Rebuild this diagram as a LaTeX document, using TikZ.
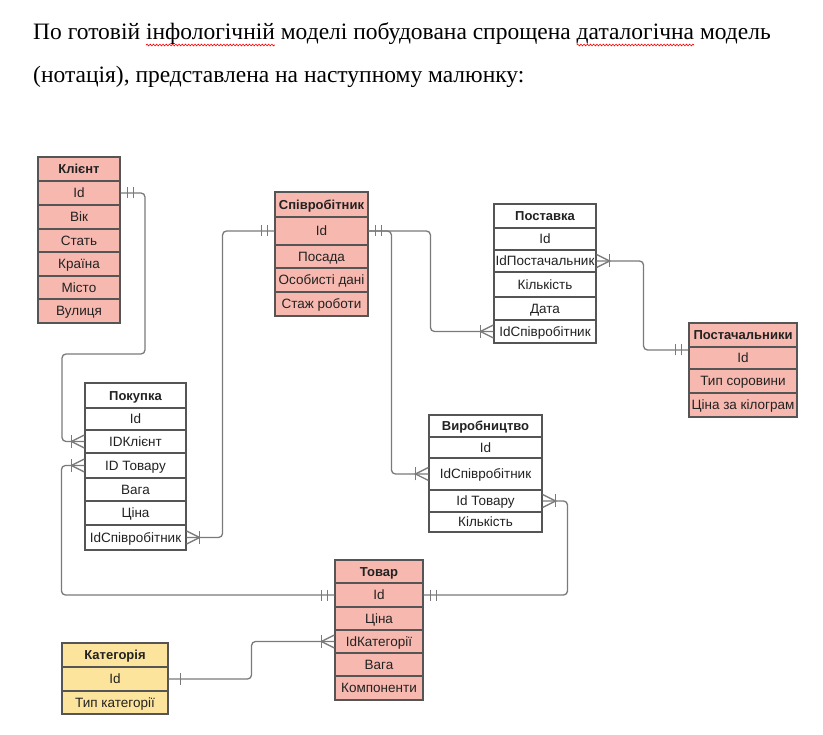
\documentclass[tikz,border=0pt]{standalone}
\usepackage{fontspec}
\setmainfont{Liberation Serif}
\newfontfamily\tabfont{Liberation Sans}
\usetikzlibrary{decorations.pathmorphing}
\definecolor{pinkc}{HTML}{F7B9AF}
\definecolor{yelc}{HTML}{FCE49C}
\definecolor{bordc}{HTML}{555555}
\definecolor{linec}{HTML}{7A7A7A}
\definecolor{txtc}{HTML}{222222}
\newlength\sqw
\newcommand\squig[1]{\settowidth\sqw{#1}\rlap{\tikz[overlay]\draw[red,line width=0.6pt,decorate,decoration={snake,amplitude=0.9pt,segment length=3.2pt}] (0pt,-5pt) -- (\sqw,-5pt);}#1}
\tikzset{
  cell/.style={draw=bordc, line width=1.1pt, inner sep=0pt, text=txtc,
    font=\tabfont\fontsize{13.5}{16}\selectfont, text height=12.7pt, text depth=3pt},
  pk/.style={cell, fill=pinkc},
  wt/.style={cell, fill=white},
  yl/.style={cell, fill=yelc},
  hd/.style={font=\tabfont\bfseries\fontsize{13}{16}\selectfont},
  conn/.style={draw=linec, line width=1.3pt, rounded corners=4pt},
  mk/.style={draw=linec, line width=1.3pt},
  manyone/.pic={\draw[mk] (0,-6.5) -- (13,0) -- (0,6.5); \draw[mk] (13,-6.5) -- (13,6.5);},
  oneone/.pic={\draw[mk] (7,-5.5) -- (7,5.5); \draw[mk] (13,-5.5) -- (13,5.5);},
  onlyone/.pic={\draw[mk] (12,-6) -- (12,6);}
}
\begin{document}
\begin{tikzpicture}[x=1pt,y=-1pt]
\fill[white] (0,0) rectangle (823,735);
\useasboundingbox (0,0) rectangle (823,735);

\node[anchor=base west, inner sep=0, font=\fontsize{23.5}{28}\selectfont] (l1) at (33,40)
  {По готовій \squig{інфологічній} моделі побудована спрощена \squig{даталогічна} модель};
\node[anchor=base west, inner sep=0, font=\fontsize{23.5}{28}\selectfont] (l2) at (33,83)
  {(нотація), представлена на наступному малюнку:};

% Клієнт
\begin{scope}[every node/.append style={minimum width=82pt}]
\node[pk,hd,minimum height=24pt] (k0) at (79,169) {Клієнт};
\node[pk,minimum height=24pt] (k1) at (79,193) {Id};
\node[pk,minimum height=24pt] (k2) at (79,217) {Вік};
\node[pk,minimum height=23pt] (k3) at (79,240.5) {Стать};
\node[pk,minimum height=24pt] (k4) at (79,264) {Країна};
\node[pk,minimum height=23pt] (k5) at (79,287.5) {Місто};
\node[pk,minimum height=24pt] (k6) at (79,311) {Вулиця};
\end{scope}

% Співробітник
\begin{scope}[every node/.append style={minimum width=93pt}]
\node[pk,hd,minimum height=25pt] (s0) at (321.5,204.5) {Співробітник};
\node[pk,minimum height=28pt] (s1) at (321.5,231) {Id};
\node[pk,minimum height=23pt] (s2) at (321.5,256.5) {Посада};
\node[pk,minimum height=24pt] (s3) at (321.5,280) {Особисті дані};
\node[pk,minimum height=24pt] (s4) at (321.5,304) {Стаж роботи};
\end{scope}

% Поставка
\begin{scope}[every node/.append style={minimum width=102pt}]
\node[wt,hd,minimum height=24pt] (p0) at (545,216) {Поставка};
\node[wt,minimum height=22pt] (p1) at (545,239) {Id};
\node[wt,minimum height=22pt] (p2) at (545,261) {IdПостачальник};
\node[wt,minimum height=25pt] (p3) at (545,284.5) {Кількість};
\node[wt,minimum height=23pt] (p4) at (545,308.5) {Дата};
\node[wt,minimum height=23pt] (p5) at (545,331.5) {IdСпівробітник};
\end{scope}

% Постачальники
\begin{scope}[every node/.append style={minimum width=108pt}]
\node[pk,hd,minimum height=24pt] (c0) at (743,335) {Постачальники};
\node[pk,minimum height=22pt] (c1) at (743,358) {Id};
\node[pk,minimum height=24pt] (c2) at (743,381) {Тип соровини};
\node[pk,minimum height=24pt] (c3) at (743,405) {Ціна за кілограм};
\end{scope}

% Покупка
\begin{scope}[every node/.append style={minimum width=101pt}]
\node[wt,hd,minimum height=25pt] (b0) at (135.5,395.5) {Покупка};
\node[wt,minimum height=22pt] (b1) at (135.5,419) {Id};
\node[wt,minimum height=23pt] (b2) at (135.5,441.5) {IDКлієнт};
\node[wt,minimum height=25pt] (b3) at (135.5,465.5) {ID Товару};
\node[wt,minimum height=23pt] (b4) at (135.5,489.5) {Вага};
\node[wt,minimum height=24pt] (b5) at (135.5,513) {Ціна};
\node[wt,minimum height=25pt] (b6) at (135.5,537.5) {IdСпівробітник};
\end{scope}

% Виробництво
\begin{scope}[every node/.append style={minimum width=113pt}]
\node[wt,hd,minimum height=22pt] (v0) at (485.5,426) {Виробництво};
\node[wt,minimum height=21pt] (v1) at (485.5,447.5) {Id};
\node[wt,minimum height=32pt] (v2) at (485.5,474) {IdСпівробітник};
\node[wt,minimum height=22pt] (v3) at (485.5,501) {Id Товару};
\node[wt,minimum height=20pt] (v4) at (485.5,522) {Кількість};
\end{scope}

% Товар
\begin{scope}[every node/.append style={minimum width=88pt}]
\node[pk,hd,minimum height=23pt] (t0) at (379,571.5) {Товар};
\node[pk,minimum height=24pt] (t1) at (379,595) {Id};
\node[pk,minimum height=23pt] (t2) at (379,618.5) {Ціна};
\node[pk,minimum height=23pt] (t3) at (379,641.5) {IdКатегорії};
\node[pk,minimum height=23pt] (t4) at (379,664.5) {Вага};
\node[pk,minimum height=24pt] (t5) at (379,688) {Компоненти};
\end{scope}

% Категорія
\begin{scope}[every node/.append style={minimum width=106pt}]
\node[yl,hd,minimum height=24pt] (g0) at (115,655) {Категорія};
\node[yl,minimum height=24pt] (g1) at (115,679) {Id};
\node[yl,minimum height=23pt] (g2) at (115,702.5) {Тип категорії};
\end{scope}

% connectors
\draw[conn] (k1.east) -| (145,354) -- (62,354) |- (b2.west);
\draw[conn] (b3.west) -- ++(-23,0) |- (t1.west);
\draw[conn] (b6.east) -- ++(36,0) |- (s1.west);
\draw[conn] (p5.west) -- ++(-63,0) |- (s1.east);
\draw[conn] (v2.west) -- ++(-37,0) |- (s1.east);
\draw[conn] (p2.east) -- ++(47,0) |- ([yshift=8pt]c1.west);
\draw[conn] (v3.east) -- ++(25,0) |- (t1.east);
\draw[conn] (g1.east) -- ++(83,0) |- (t3.west);

% markers
\pic at (k1.east) {oneone};
\pic[rotate=180] at (b2.west) {manyone};
\pic[rotate=180] at (b3.west) {manyone};
\pic[rotate=180] at (t1.west) {oneone};
\pic at (b6.east) {manyone};
\pic[rotate=180] at (s1.west) {oneone};
\pic at (s1.east) {oneone};
\pic[rotate=180] at (p5.west) {manyone};
\pic[rotate=180] at (v2.west) {manyone};
\pic at (p2.east) {manyone};
\pic[rotate=180] at ([yshift=8pt]c1.west) {oneone};
\pic at (v3.east) {manyone};
\pic at (t1.east) {oneone};
\pic at (g1.east) {onlyone};
\pic[rotate=180] at (t3.west) {manyone};
\end{tikzpicture}
\end{document}
